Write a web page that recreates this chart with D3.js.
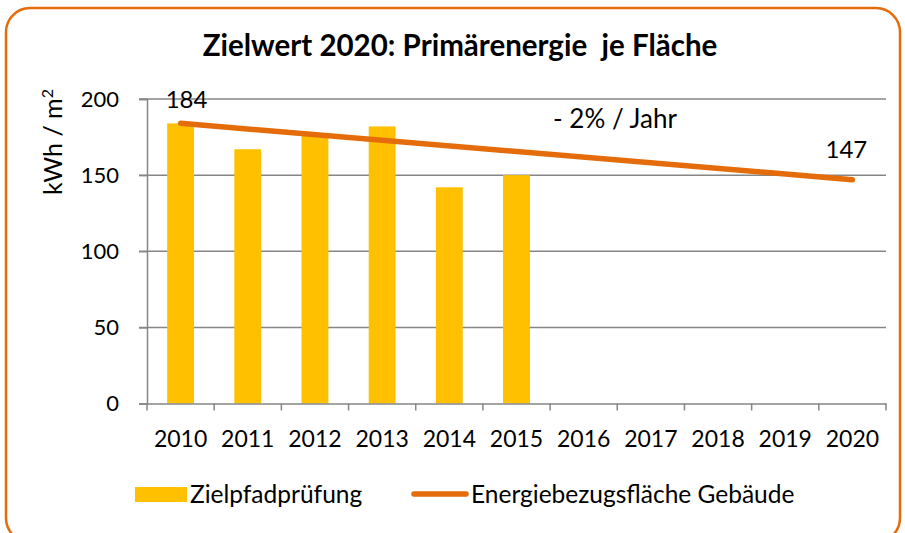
<!DOCTYPE html>
<html>
<head>
<meta charset="utf-8">
<script src="https://cdn.jsdelivr.net/npm/d3@7"></script>
<style>
  body { margin: 0; background: #fff; }
  svg { display: block; font-family: Lato, "Open Sans", sans-serif; }
</style>
</head>
<body>
<div id="chart"></div>
<script>
// data
const years = ['2010', '2011', '2012', '2013', '2014', '2015', '2016', '2017', '2018', '2019', '2020'];
const barYears = ['2010', '2011', '2012', '2013', '2014', '2015'];
const barValues = [184, 167, 177, 182, 142, 150];
const lineYears = ['2010', '2020'];
const lineValues = [184, 147];
const yTicks = [0, 50, 100, 150, 200];

const W = 905, H = 533;
const plot = { left: 147, right: 886, top: 99, bottom: 403.5 };

const svg = d3.select('#chart')
  .append('svg')
  .attr('width', W)
  .attr('height', H);

// frame
svg.append('rect')
  .attr('x', 6)
  .attr('y', 8)
  .attr('width', 894)
  .attr('height', 534)
  .attr('rx', 24)
  .attr('fill', '#fff')
  .attr('stroke', '#E46C0A')
  .attr('stroke-width', 2.5);

// title
svg.append('text')
  .attr('x', 460)
  .attr('y', 56)
  .attr('text-anchor', 'middle')
  .attr('xml:space', 'preserve')
  .style('font-size', '29.5px')
  .style('font-weight', 'bold')
  .text('Zielwert 2020: Primärenergie  je Fläche');

// scales
const x = d3.scaleBand()
  .domain(years)
  .range([plot.left, plot.right])
  .padding(0);

const xBar = d3.scaleBand()
  .domain(years)
  .range([plot.left, plot.right])
  .paddingInner(0.6)
  .paddingOuter(0.3);

const y = d3.scaleLinear()
  .domain([0, 200])
  .range([plot.bottom, plot.top]);

// gridlines
svg.append('g')
  .selectAll('line')
  .data(yTicks.filter((d) => d > 0))
  .enter()
  .append('line')
  .attr('x1', plot.left - 8)
  .attr('x2', plot.right)
  .attr('y1', (d) => y(d))
  .attr('y2', (d) => y(d))
  .attr('stroke', '#868686')
  .attr('stroke-width', 1.5);

// Y axis
const yAxis = svg.append('g')
  .attr('transform', `translate(${plot.left},0)`)
  .call(d3.axisLeft(y).tickValues(yTicks).tickSize(8).tickPadding(20));
yAxis.select('.domain').attr('stroke', '#868686').attr('stroke-width', 1.5);
yAxis.selectAll('.tick line').attr('stroke', '#868686').attr('stroke-width', 1.5);
yAxis.selectAll('.tick text')
  .style('font-size', '22px')
  .style('font-family', 'Lato, sans-serif')
  .attr('fill', '#000');

// y label
svg.append('text')
  .attr('transform', 'translate(62,142) rotate(-90)')
  .attr('text-anchor', 'middle')
  .style('font-size', '25px')
  .html('kWh / m<tspan dy="-9" font-size="16">2</tspan>');

// bars
svg.append('g')
  .selectAll('rect')
  .data(barValues)
  .enter()
  .append('rect')
  .attr('x', (d, i) => xBar(barYears[i]))
  .attr('y', (d) => y(d))
  .attr('width', xBar.bandwidth())
  .attr('height', (d) => y(0) - y(d))
  .attr('fill', '#FFC000');

// X axis
const xAxis = svg.append('g')
  .attr('transform', `translate(0,${plot.bottom})`)
  .call(d3.axisBottom(x).tickSize(0).tickPadding(27));
xAxis.select('.domain').attr('stroke', '#868686').attr('stroke-width', 1.5);
xAxis.selectAll('.tick text')
  .style('font-size', '23px')
  .style('font-family', 'Lato, sans-serif')
  .attr('fill', '#000');
// tick marks at band boundaries
xAxis.selectAll('.bound')
  .data(years.concat(['end']))
  .enter()
  .append('line')
  .attr('x1', (d, i) => plot.left + i * x.bandwidth())
  .attr('x2', (d, i) => plot.left + i * x.bandwidth())
  .attr('y1', 0)
  .attr('y2', 7)
  .attr('stroke', '#868686')
  .attr('stroke-width', 1.5);

// line
const line = d3.line()
  .x((d, i) => x(lineYears[i]) + x.bandwidth() / 2)
  .y((d) => y(d));
svg.append('path')
  .datum(lineValues)
  .attr('d', line)
  .attr('fill', 'none')
  .attr('stroke', '#E46C0A')
  .attr('stroke-width', 5.5)
  .attr('stroke-linecap', 'round');

// data labels
svg.append('text')
  .attr('x', x(lineYears[0]) + x.bandwidth() / 2 + 6)
  .attr('y', y(lineValues[0]) - 15)
  .attr('text-anchor', 'middle')
  .style('font-size', '24px')
  .text(lineValues[0]);
svg.append('text')
  .attr('x', x(lineYears[1]) + x.bandwidth() / 2 - 6)
  .attr('y', y(lineValues[1]) - 22)
  .attr('text-anchor', 'middle')
  .style('font-size', '24px')
  .text(lineValues[1]);

// annotation
svg.append('text')
  .attr('x', 553)
  .attr('y', 128)
  .style('font-size', '26px')
  .text('- 2% / Jahr');

// legend
const legend = svg.append('g');
legend.append('rect')
  .attr('x', 135)
  .attr('y', 487)
  .attr('width', 52)
  .attr('height', 15)
  .attr('fill', '#FFC000');
legend.append('text')
  .attr('x', 190)
  .attr('y', 503)
  .style('font-size', '24.5px')
  .text('Zielpfadprüfung');
legend.append('line')
  .attr('x1', 414)
  .attr('x2', 466)
  .attr('y1', 494)
  .attr('y2', 494)
  .attr('stroke', '#E46C0A')
  .attr('stroke-width', 5.5)
  .attr('stroke-linecap', 'round');
legend.append('text')
  .attr('x', 471)
  .attr('y', 503)
  .style('font-size', '24.5px')
  .text('Energiebezugsfläche Gebäude');
</script>
</body>
</html>
